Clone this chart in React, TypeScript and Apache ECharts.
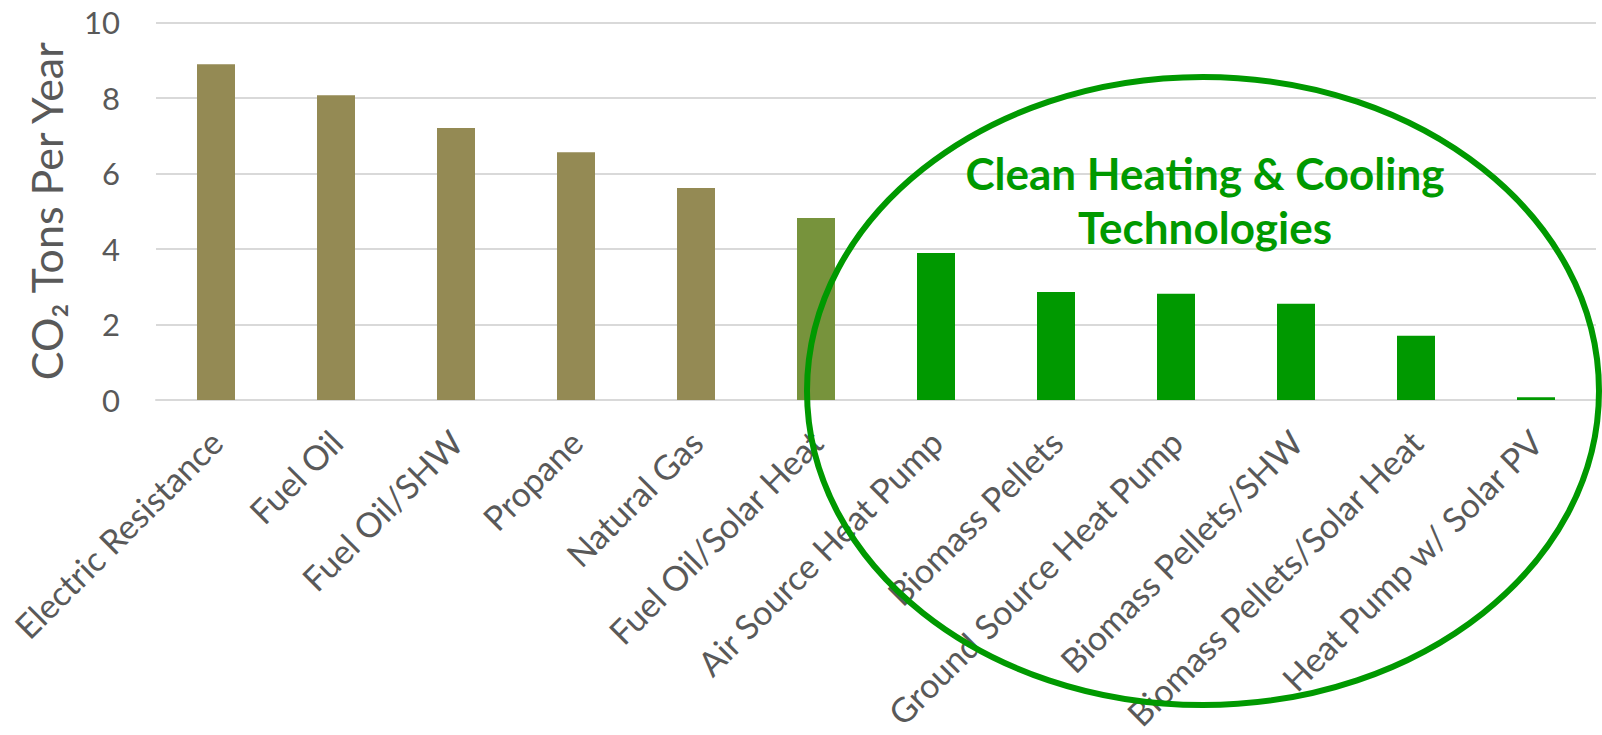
import React, { useEffect, useRef } from "react";
import * as echarts from "echarts";

const categories = [
  "Electric Resistance",
  "Fuel Oil",
  "Fuel Oil/SHW",
  "Propane",
  "Natural Gas",
  "Fuel Oil/Solar Heat",
  "Air Source Heat Pump",
  "Biomass Pellets",
  "Ground Source Heat Pump",
  "Biomass Pellets/SHW",
  "Biomass Pellets/Solar Heat",
  "Heat Pump w/ Solar PV",
];
const values = [8.89, 8.07, 7.2, 6.56, 5.61, 4.82, 3.89, 2.86, 2.81, 2.55, 1.7, 0.07];
const barColors = [
  "#948A54", "#948A54", "#948A54", "#948A54", "#948A54", "#77933C",
  "#009900", "#009900", "#009900", "#009900", "#009900", "#009900",
];
const yTicks = { min: 0, max: 10, interval: 2 };
const yTitle = "CO₂ Tons Per Year";
const calloutText = "Clean Heating & Cooling\nTechnologies";

const FONT = "Lato, 'Noto Sans', sans-serif";

export default function App() {
  const ref = useRef<HTMLDivElement>(null);
  useEffect(() => {
    if (!ref.current) return;
    const chart = echarts.init(ref.current, null, { renderer: "svg" });
    chart.setOption({
      animation: false,
      textStyle: { fontFamily: FONT },
      grid: { left: 156, right: 6, top: 22.3, bottom: 335, containLabel: false },
      xAxis: {
        type: "category",
        data: categories,
        axisTick: { show: false },
        axisLine: { lineStyle: { color: "#D9D9D9", width: 2 } },
        axisLabel: {
          interval: 0,
          rotate: 45,
          color: "#595959",
          fontSize: 34,
          fontFamily: FONT,
          margin: 36,
        },
      },
      yAxis: {
        type: "value",
        min: yTicks.min,
        max: yTicks.max,
        interval: yTicks.interval,
        axisLine: { show: false },
        axisTick: { show: false },
        splitLine: { lineStyle: { color: "#D9D9D9", width: 2 } },
        axisLabel: { color: "#595959", fontSize: 31, fontFamily: FONT, margin: 36 },
        name: yTitle,
        nameLocation: "middle",
        nameGap: 88,
        nameTextStyle: { color: "#595959", fontSize: 43, fontFamily: FONT },
      },
      series: [
        {
          type: "bar",
          barWidth: 38,
          data: values.map((v, i) => ({ value: v, itemStyle: { color: barColors[i] } })),
        },
      ],
      graphic: [
        {
          type: "ellipse",
          z: 100,
          shape: { cx: 1203, cy: 391, rx: 396, ry: 314 },
          style: { fill: "none", stroke: "#009900", lineWidth: 6 },
        },
        {
          type: "text",
          z: 100,
          x: 1205,
          y: 200,
          style: {
            text: calloutText,
            fill: "#009900",
            font: `bold 44px ${FONT}`,
            textAlign: "center",
            textVerticalAlign: "middle",
            lineHeight: 54,
          },
        },
      ],
    });
    return () => chart.dispose();
  }, []);
  return (
    <div
      ref={ref}
      style={{ position: "absolute", left: 0, top: 0, width: 1602, height: 735, background: "#fff" }}
    />
  );
}
